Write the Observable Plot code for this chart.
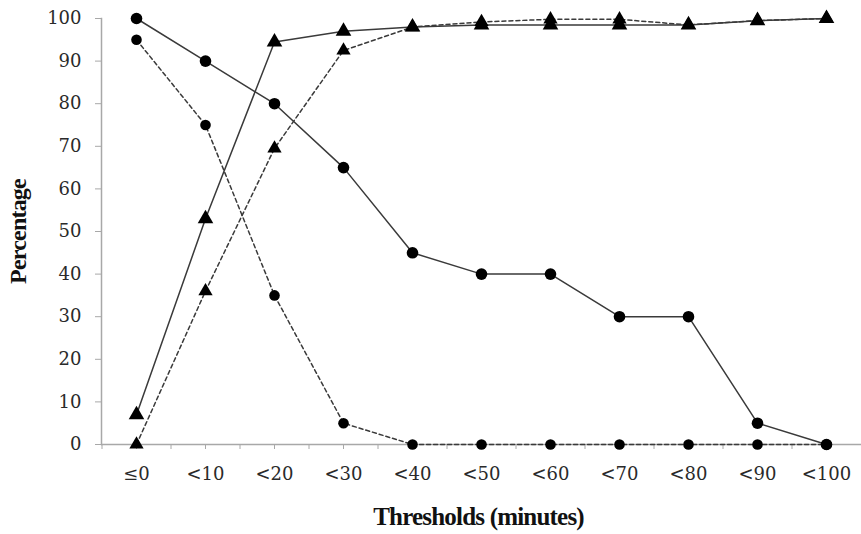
<!DOCTYPE html>
<html>
<head>
<meta charset="utf-8">
<script src="https://cdn.jsdelivr.net/npm/d3@7"></script>
<script src="https://cdn.jsdelivr.net/npm/@observablehq/plot@0.6"></script>
<style>
  html, body { margin: 0; padding: 0; background: #fff; }
</style>
</head>
<body>
<div id="chart"></div>
<script>
const thresholds = ["≤0", "<10", "<20", "<30", "<40", "<50", "<60", "<70", "<80", "<90", "<100"];
const solidCircle = [100, 90, 80, 65, 45, 40, 40, 30, 30, 5, 0];
const dashedCircle = [95, 75, 35, 5, 0, 0, 0, 0, 0, 0, 0];
const solidTriangle = [7, 53, 94.5, 97, 98, 98.5, 98.5, 98.5, 98.5, 99.5, 100];
const dashedTriangle = [0, 36, 69.5, 92.5, 98, 99.2, 99.8, 99.8, 98.5, 99.5, 100];
const yTicks = [0, 10, 20, 30, 40, 50, 60, 70, 80, 90, 100];
const xTitle = "Thresholds (minutes)";
const yTitle = "Percentage";

const rows = (vals) => thresholds.map((t, i) => ({t, v: vals[i]}));
const sC = rows(solidCircle), dC = rows(dashedCircle), sT = rows(solidTriangle), dT = rows(dashedTriangle);

const lineColor = "#3a3a3a";
const axisColor = "#a8a8a8";
const dash = "4,3";
const tickFont = "'DejaVu Serif', serif";
const titleFont = "'Liberation Serif', 'Times New Roman', serif";

const chart = Plot.plot({
  width: 861,
  height: 534,
  marginLeft: 101,
  marginRight: 0,
  marginTop: 18,
  marginBottom: 90,
  style: {fontFamily: tickFont, fontSize: "18px", color: "#2a2a2a", background: "#fff"},
  x: {type: "point", domain: thresholds, padding: 0.5},
  y: {domain: [0, 100]},
  marks: [
    Plot.frame({anchor: "left", stroke: axisColor, strokeWidth: 1.5}),
    Plot.ruleY([0], {stroke: axisColor, strokeWidth: 1.5}),
    Plot.axisY({ticks: yTicks, tickSize: 6, tickPadding: 14, stroke: axisColor, fill: "#2a2a2a", fontFamily: tickFont, label: null}),
    Plot.axisX({tickSize: 5, tickPadding: 18, stroke: axisColor, fill: "#2a2a2a", fontFamily: tickFont, label: null}),
    Plot.axisX({tickSize: 5, text: null, dx: -34.5, stroke: axisColor, label: null}),
    Plot.line(sC, {x: "t", y: "v", stroke: lineColor, strokeWidth: 1.5}),
    Plot.line(dC, {x: "t", y: "v", stroke: lineColor, strokeWidth: 1.5, strokeDasharray: dash}),
    Plot.line(sT, {x: "t", y: "v", stroke: lineColor, strokeWidth: 1.5}),
    Plot.line(dT, {x: "t", y: "v", stroke: lineColor, strokeWidth: 1.5, strokeDasharray: dash}),
    Plot.dot(sC, {x: "t", y: "v", symbol: "circle", r: 5.8, fill: "#000"}),
    Plot.dot(dC, {x: "t", y: "v", symbol: "circle", r: 5.3, fill: "#000"}),
    Plot.dot(sT, {x: "t", y: "v", symbol: "triangle", r: 5.8, fill: "#000"}),
    Plot.dot(dT, {x: "t", y: "v", symbol: "triangle", r: 5.3, fill: "#000"}),
    Plot.text([yTitle], {frameAnchor: "left", textAnchor: "middle", dx: -83, rotate: -90, text: d => d, fontWeight: "bold", fontSize: 24, fontFamily: titleFont, fill: "#111"}),
    Plot.text([xTitle], {frameAnchor: "bottom", textAnchor: "middle", dy: 80, dx: -3, text: d => d, fontWeight: "bold", fontSize: 25, fontFamily: titleFont, fill: "#111"})
  ]
});
// tighten title letter spacing to mimic the condensed bold face of the reference
d3.select(chart).selectAll("text").filter(function() { return this.textContent === xTitle || this.textContent === yTitle; })
  .attr("letter-spacing", "-0.8px");
document.getElementById("chart").appendChild(chart);
</script>
</body>
</html>
